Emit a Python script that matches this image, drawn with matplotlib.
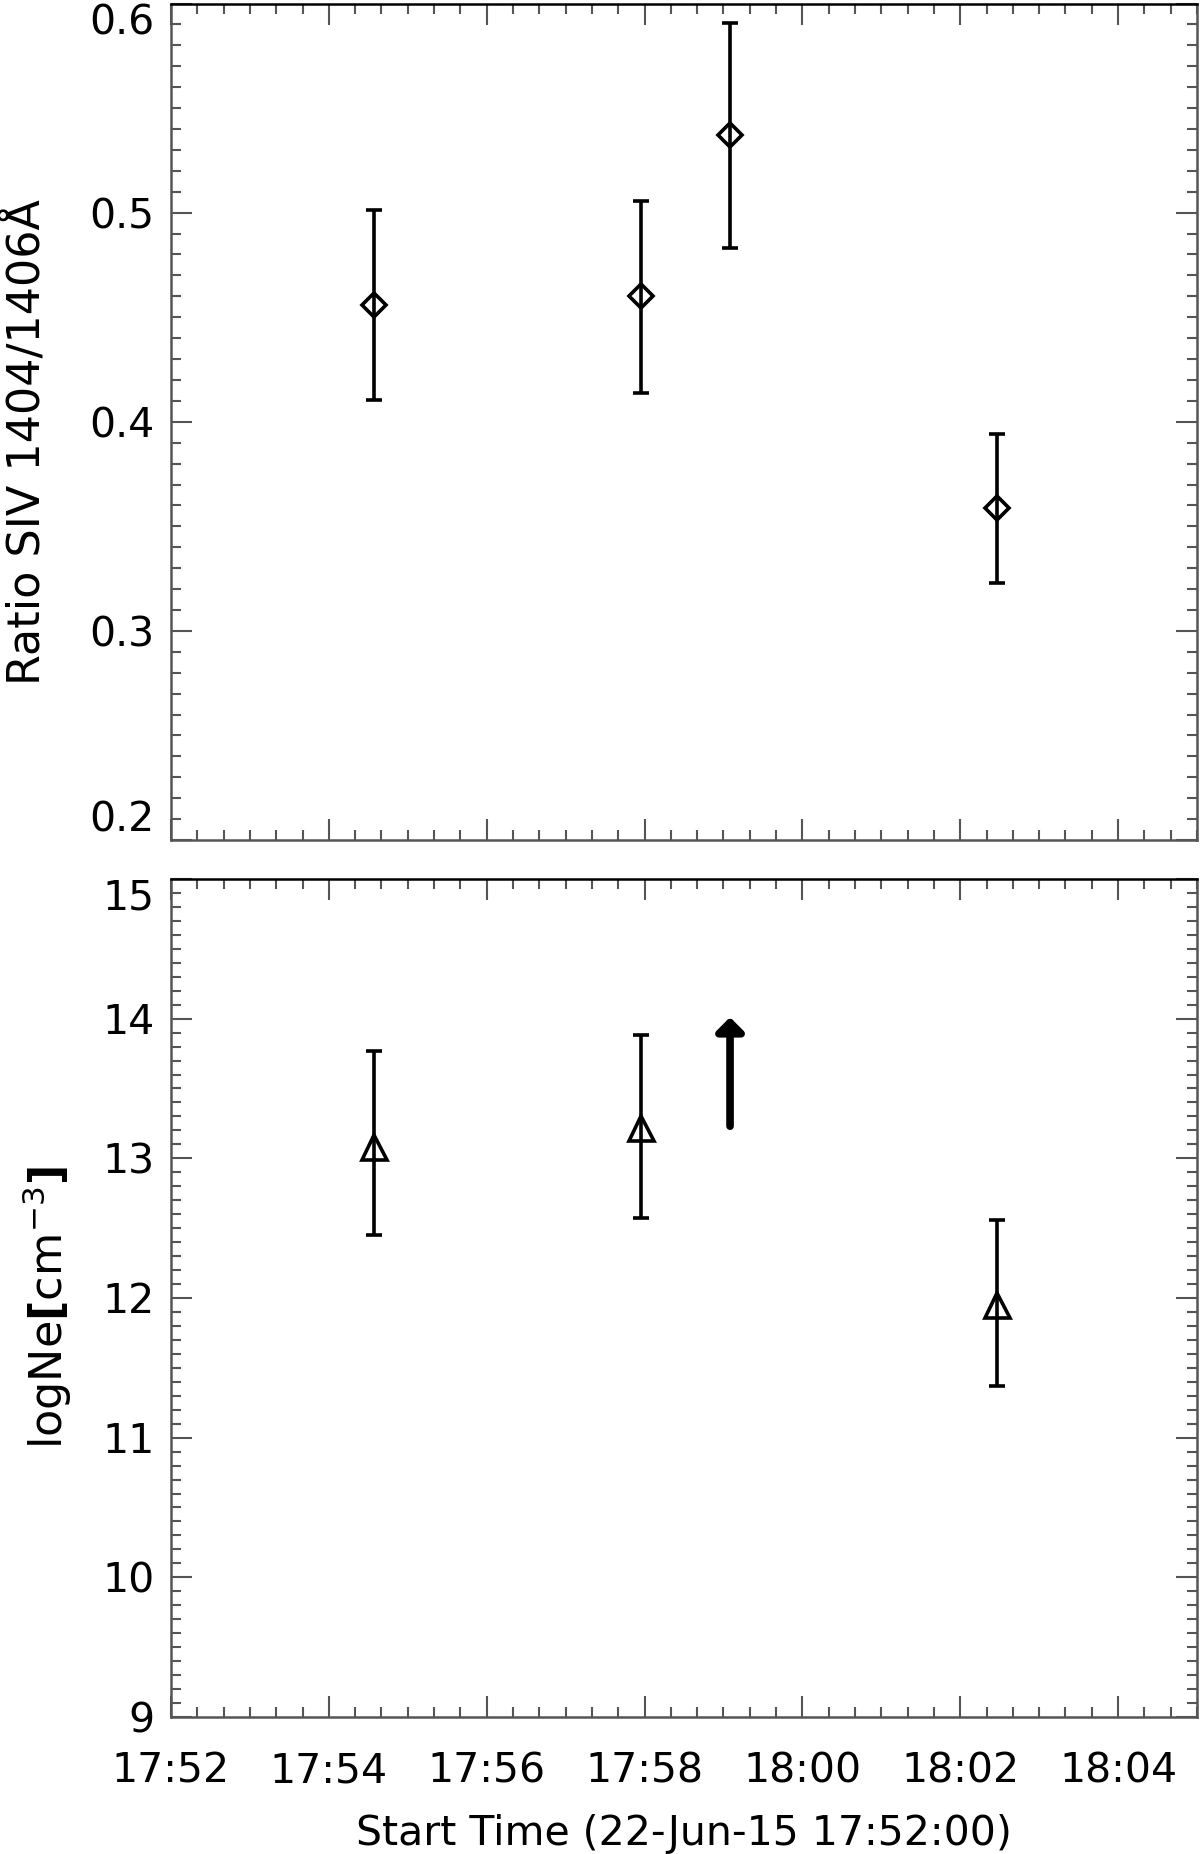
#!/usr/bin/env python

import numpy as np
import matplotlib as mpl
import matplotlib.pyplot as plt
from matplotlib.ticker import MultipleLocator, FuncFormatter

mpl.rcParams['font.family'] = 'DejaVu Sans'
mpl.rcParams['mathtext.fontset'] = 'dejavusans'

# observation start times (22-Jun-15)
times = ['17:54:34', '17:57:57', '17:59:05', '18:02:28']

# SIV 1404/1406 ratio with error bounds
ratio = [0.4557, 0.4603, 0.5370, 0.3588]
ratio_lo = [0.4103, 0.4139, 0.4830, 0.3227]
ratio_hi = [0.5015, 0.5055, 0.5908, 0.3940]

# log density; the third point is only a lower limit (arrow)
dens_idx = [0, 1, 3]
dens = [13.08, 13.22, 11.95]
dens_lo = [12.45, 12.57, 11.37]
dens_hi = [13.77, 13.88, 12.56]
limit_idx = 2
limit_lo = 13.23
limit_tip = 14.01

T0 = '17:52:00'
FS = 29.5


def to_min(s, ref=T0):
    h, m, sec = [int(v) for v in s.split(':')]
    h0, m0, s0 = [int(v) for v in ref.split(':')]
    return (h * 60 + m + sec / 60.0) - (h0 * 60 + m0 + s0 / 60.0)


def fmt_time(v, pos):
    tot = int(round(v)) + 17 * 60 + 52
    return '%02d:%02d' % (tot // 60, tot % 60)


def style(ax):
    for side in ['left', 'right', 'bottom', 'top']:
        ax.spines[side].set_color('#555555')
        ax.spines[side].set_linewidth(1.8)
    ax.spines['top'].set_color('k')
    ax.tick_params(which='both', direction='in', top=True, right=True,
                   colors='#555555', width=1.5, labelcolor='k',
                   labelsize=FS)
    ax.tick_params(which='major', length=15)
    ax.tick_params(which='minor', length=7.5)
    ax.tick_params(axis='y', pad=12)
    ax.tick_params(axis='x', pad=25)
    ax.set_xlim(0, 13)
    ax.xaxis.set_major_locator(MultipleLocator(2))
    ax.xaxis.set_minor_locator(MultipleLocator(1 / 3.0))
    ax.xaxis.set_major_formatter(FuncFormatter(fmt_time))


def pin_label(ax, val, va):
    for t in ax.yaxis.get_major_ticks():
        if abs(t.get_loc() - val) < 1e-6:
            t.label1.set_verticalalignment(va)


x = np.array([to_min(t) for t in times])

fig = plt.figure(figsize=(12, 18.54), dpi=100)
ax1 = fig.add_axes([0.1425, 0.5469, 0.855, 0.4512])
ax2 = fig.add_axes([0.1425, 0.0739, 0.855, 0.4520])

ekw = dict(mfc='none', mec='k', mew=2.6, ecolor='k', elinewidth=2.6,
           capsize=6, capthick=2.6, ls='none')

r = np.array(ratio)
ax1.errorbar(x, r, yerr=[r - np.array(ratio_lo), np.array(ratio_hi) - r],
             fmt='D', ms=12.5, **ekw)
style(ax1)
ax1.set_ylim(0.2, 0.6)
ax1.yaxis.set_major_locator(MultipleLocator(0.1))
ax1.yaxis.set_minor_locator(MultipleLocator(0.01))
ax1.yaxis.set_major_formatter(FuncFormatter(lambda v, p: '%.1f' % v))
ax1.tick_params(labelbottom=False)
ax1.set_ylabel('Ratio SIV 1404/1406Å', fontsize=32, va='center')
ax1.yaxis.set_label_coords(-0.141, 0.476)

d = np.array(dens)
ax2.errorbar(x[dens_idx], d, yerr=[d - np.array(dens_lo), np.array(dens_hi) - d],
             fmt='^', ms=18, **ekw)
ax2.annotate('', xy=(x[limit_idx], limit_tip), xytext=(x[limit_idx], limit_lo),
             arrowprops=dict(arrowstyle='-|>,head_length=0.4,head_width=0.4',
                             lw=5.5, color='k', mutation_scale=20,
                             shrinkA=0, shrinkB=0))
style(ax2)
ax2.set_ylim(9, 15)
ax2.yaxis.set_major_locator(MultipleLocator(1))
ax2.yaxis.set_minor_locator(MultipleLocator(0.1))
ax2.set_ylabel(r'logNe$\mathbf{[}$cm$^{-3}$$\mathbf{]}$', fontsize=32, va='center')
ax2.yaxis.set_label_coords(-0.121, 0.488)
ax2.set_xlabel('Start Time (22-Jun-15 17:52:00)', fontsize=FS, labelpad=16)

# keep the end labels inside their panels, as in the original
fig.canvas.draw()
pin_label(ax1, 0.6, 'top')
pin_label(ax1, 0.2, 'bottom')
pin_label(ax2, 15, 'top')

plt.savefig('out.png', dpi=100)
